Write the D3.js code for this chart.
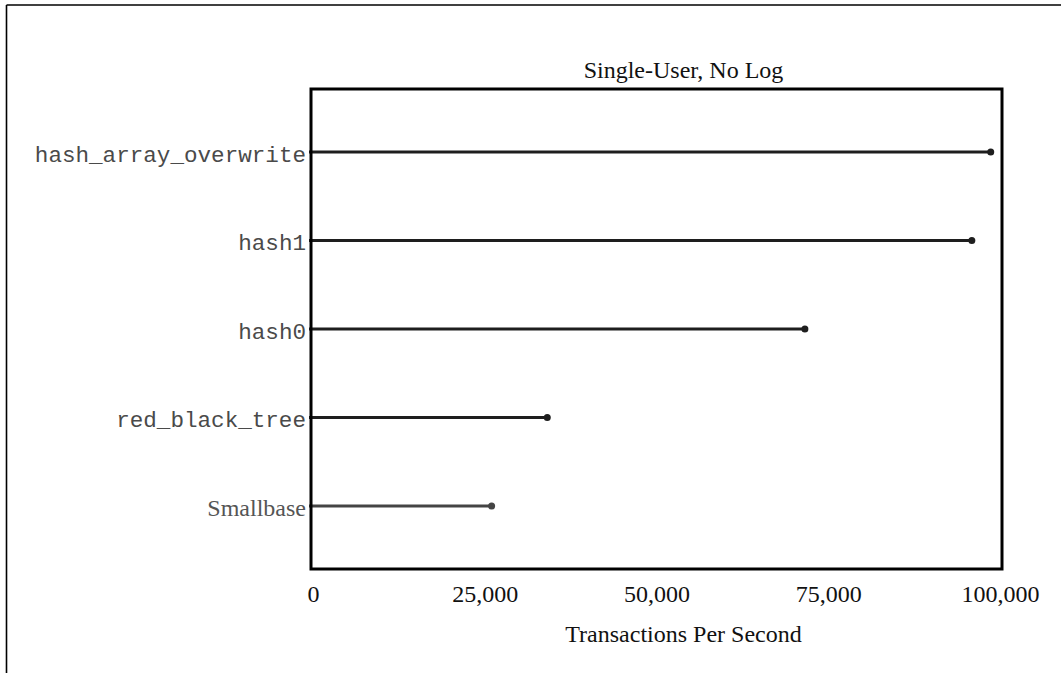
<!DOCTYPE html>
<html>
<head>
<meta charset="utf-8">
<script src="https://cdn.jsdelivr.net/npm/d3@7"></script>
<style>
  body { margin: 0; background: white; }
  svg { display: block; }
</style>
</head>
<body>
<div id="chart"></div>
<script>
var categories = ["hash_array_overwrite", "hash1", "hash0", "red_black_tree", "Smallbase"];
var values = [98650, 95900, 71600, 34100, 26000];
var tickValues = [0, 25000, 50000, 75000, 100000];
var title = "Single-User, No Log";
var xLabel = "Transactions Per Second";

var width = 1061, height = 673;
var box = { left: 311, right: 1002, top: 89, bottom: 569 };

var svg = d3.select("#chart").append("svg")
    .attr("width", width)
    .attr("height", height)

// outer frame (top and left only)
svg.append("line")
    .attr("x1", 6.5).attr("x2", width)
    .attr("y1", 5).attr("y2", 5)
    .style("stroke", "black").style("stroke-width", 1.6)
svg.append("line")
    .attr("x1", 6.5).attr("x2", 6.5)
    .attr("y1", 5).attr("y2", height)
    .style("stroke", "black").style("stroke-width", 1.6)

var x = d3.scaleLinear().domain([0, 100000]).range([313, 1000])
var y = d3.scalePoint().domain(categories).range([box.top, box.bottom]).padding(0.71)

var rows = svg.selectAll(".row")
    .data(categories.map((c, i) => ({ name: c, value: values[i] })))
    .enter()
    .append("g")
    .attr("class", "row")

rows.append("line")
    .attr("x1", x(0) - 4)
    .attr("x2", d => x(d.value))
    .attr("y1", d => y(d.name))
    .attr("y2", d => y(d.name))
    .style("stroke", d => d.name == "Smallbase" ? "#444" : "#1e1e1e")
    .style("stroke-width", 3)

rows.append("circle")
    .attr("cx", d => x(d.value))
    .attr("cy", d => y(d.name))
    .attr("r", 3.5)
    .attr("fill", d => d.name == "Smallbase" ? "#444" : "#1e1e1e")

rows.append("text")
    .attr("x", box.left - 5)
    .attr("y", d => y(d.name))
    .attr("dy", d => d.name == "Smallbase" ? "0.4em" : "0.43em")
    .text(d => d.name)
    .style("text-anchor", "end")
    .style("font-family", d => d.name == "Smallbase" ? "'Liberation Serif', serif" : "'Liberation Mono', monospace")
    .style("font-size", d => d.name == "Smallbase" ? "24px" : "22.6px")
    .style("fill", d => d.name == "Smallbase" ? "#555" : "#4a4a4a")

svg.append("rect")
    .attr("x", box.left)
    .attr("y", box.top)
    .attr("width", box.right - box.left)
    .attr("height", box.bottom - box.top)
    .attr("fill", "none")
    .style("stroke", "black")
    .style("stroke-width", 3)

var xAxis = d3.axisBottom(x)
    .tickValues(tickValues)
    .tickSize(0)
    .tickPadding(0)
    .tickFormat(d3.format(","))

var axisG = svg.append("g")
    .attr("transform", "translate(0," + 585 + ")")
    .call(xAxis)
axisG.select(".domain").remove()
axisG.selectAll("text")
    .attr("dy", "0.71em")
    .style("font-family", "'Liberation Serif', serif")
    .style("font-size", "24px")
    .style("fill", "#111")

svg.append("text")
    .attr("x", 683.5)
    .attr("y", 642)
    .text(xLabel)
    .style("text-anchor", "middle")
    .style("font-family", "'Liberation Serif', serif")
    .style("font-size", "24px")
    .style("fill", "#111")

svg.append("text")
    .attr("x", 683.5)
    .attr("y", 78)
    .text(title)
    .style("text-anchor", "middle")
    .style("font-family", "'Liberation Serif', serif")
    .style("font-size", "24px")
    .style("fill", "#111")
</script>
</body>
</html>
